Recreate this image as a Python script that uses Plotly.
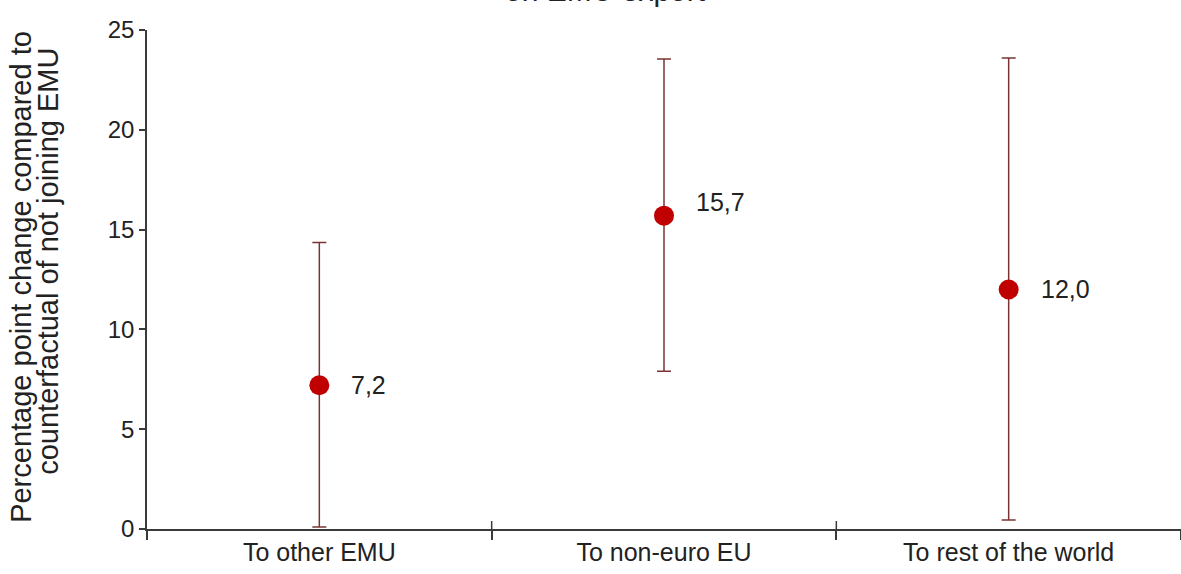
import plotly.graph_objects as go

# Estimated effect of EMU membership on exports, with confidence bands
categories = ["To other EMU", "To non-euro EU", "To rest of the world"]
estimates = [7.2, 15.7, 12.0]
lower_bound = [0.1, 7.9, 0.45]
upper_bound = [14.35, 23.55, 23.6]
value_labels = ["7,2", "15,7", "12,0"]
y_ticks = [0, 5, 10, 15, 20, 25]

FONT = "Liberation Sans, Arial, sans-serif"
TEXT = "#222222"
AXIS = "#3a3a3a"

err_plus = [u - e for u, e in zip(upper_bound, estimates)]
err_minus = [e - l for e, l in zip(estimates, lower_bound)]

fig = go.Figure()
fig.add_trace(go.Scatter(
    x=categories,
    y=estimates,
    mode="markers",
    marker=dict(size=20, color="#C00000"),
    error_y=dict(
        type="data",
        symmetric=False,
        array=err_plus,
        arrayminus=err_minus,
        color="#7a3434",
        thickness=1.5,
        width=7,
    ),
    showlegend=False,
    hoverinfo="skip",
))

label_yshift = [0, 14, 0]
for cat, val, txt, ys in zip(categories, estimates, value_labels, label_yshift):
    fig.add_annotation(
        x=cat, y=val, text=txt, showarrow=False,
        xanchor="left", yanchor="middle", xshift=30, yshift=ys,
        font=dict(family=FONT, size=25, color=TEXT),
    )

# Two-line vertical axis title
for line, xp, yp in [
    ("Percentage point change compared to", -0.122, 0.505),
    ("counterfactual of not joining EMU", -0.096, 0.537),
]:
    fig.add_annotation(
        xref="paper", yref="paper", x=xp, y=yp, text=line, showarrow=False,
        textangle=-90, xanchor="center", yanchor="middle",
        font=dict(family=FONT, size=29, color=TEXT),
    )

# Chart title (lower line)
fig.add_annotation(
    xref="paper", yref="paper", x=0.443, y=1.042, text="on EMU export",
    showarrow=False, xanchor="center", yanchor="bottom",
    font=dict(family=FONT, size=30, color=TEXT),
)

# Category separators crossing the horizontal axis
for k in range(1, len(categories)):
    fig.add_shape(
        type="line", xref="x", yref="y",
        x0=k - 0.5, x1=k - 0.5, y0=0, y1=0.4,
        line=dict(color=AXIS, width=1.5),
    )

fig.update_layout(
    width=1181,
    height=574,
    margin=dict(l=147, r=0, t=30, b=45),
    paper_bgcolor="white",
    plot_bgcolor="white",
    font=dict(family=FONT, color=TEXT),
    xaxis=dict(
        type="category",
        range=[-0.5, 2.5],
        showline=True, linecolor=AXIS, linewidth=1.5,
        ticks="outside", tickson="boundaries", ticklen=9,
        tickcolor=AXIS, tickwidth=1.5,
        showgrid=False, zeroline=False,
        tickfont=dict(family=FONT, size=25, color=TEXT),
    ),
    yaxis=dict(
        range=[0, 25],
        tickvals=y_ticks,
        showline=True, linecolor=AXIS, linewidth=1.5,
        ticks="outside", ticklen=6, tickcolor=AXIS, tickwidth=1.5,
        showgrid=False, zeroline=False,
        tickfont=dict(family=FONT, size=24, color=TEXT),
    ),
)

fig.write_html("out.html")
